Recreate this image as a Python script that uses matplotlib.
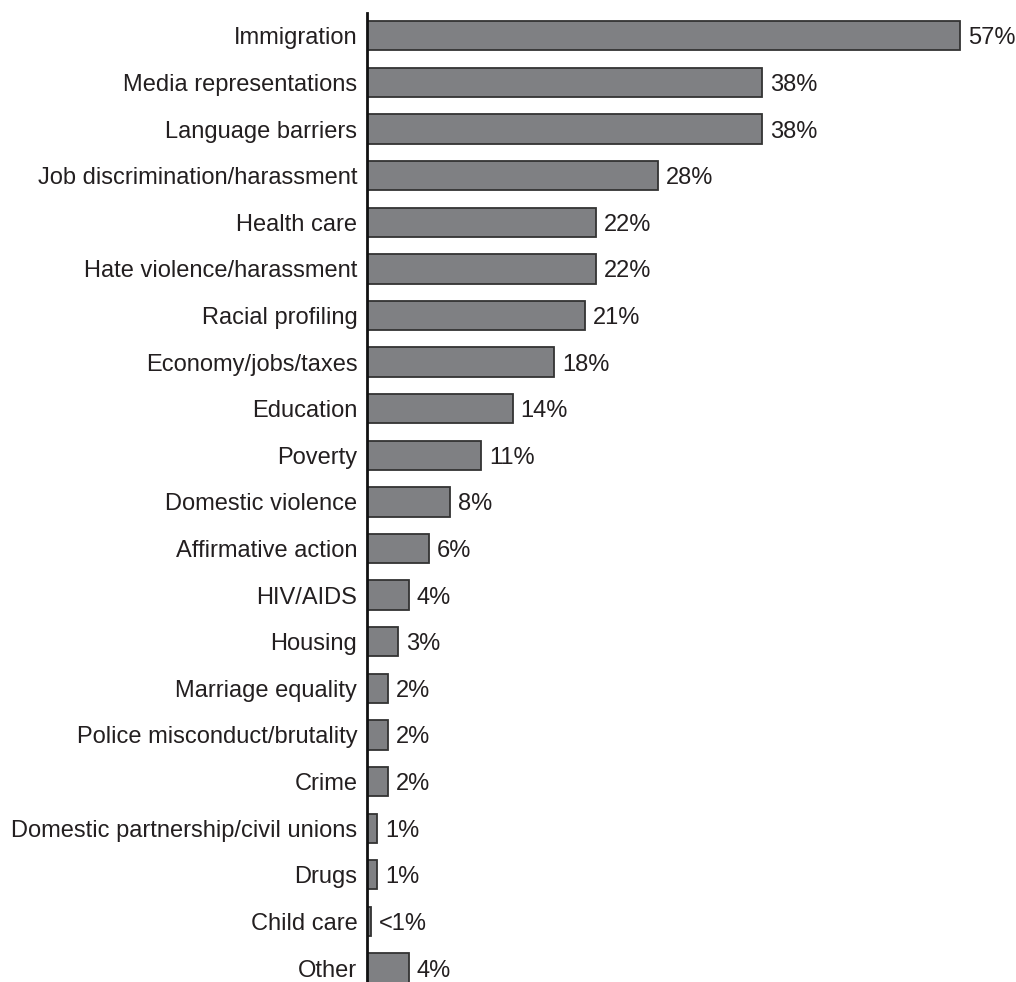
import matplotlib.pyplot as plt

# Survey responses, top issue first
issues = [
    "Immigration", "Media representations", "Language barriers",
    "Job discrimination/harassment", "Health care", "Hate violence/harassment",
    "Racial profiling", "Economy/jobs/taxes", "Education", "Poverty",
    "Domestic violence", "Affirmative action", "HIV/AIDS", "Housing",
    "Marriage equality", "Police misconduct/brutality", "Crime",
    "Domestic partnership/civil unions", "Drugs", "Child care", "Other",
]
pct = [57, 38, 38, 28, 22, 22, 21, 18, 14, 11, 8, 6, 4, 3, 2, 2, 2, 1, 1, 0.4, 4]
pct_labels = ["57%", "38%", "38%", "28%", "22%", "22%", "21%", "18%", "14%",
              "11%", "8%", "6%", "4%", "3%", "2%", "2%", "2%", "1%", "1%",
              "<1%", "4%"]

plt.rcParams['font.family'] = ['Liberation Sans', 'DejaVu Sans']

fig = plt.figure(figsize=(10.16, 9.82), dpi=100)
ax = fig.add_axes([0.3612, 0.0, 0.6388, 0.9868])

y = list(range(len(issues)))
ax.barh(y, pct, height=0.63, color="#7f8083", edgecolor="#333333", linewidth=1.3)

for yi, v, lab in zip(y, pct, pct_labels):
    ax.text(v + 0.75, yi, lab, va="center_baseline", ha="left",
            fontsize=17, color="#231f20")

ax.set_yticks(y)
ax.set_yticklabels(issues, fontsize=17, color="#231f20", va="center_baseline")
ax.tick_params(axis="y", length=0, pad=7)
ax.set_xticks([])

ax.set_xlim(0, 62.4)
ax.set_ylim(20.3, -0.49)

for s in ["top", "right", "bottom"]:
    ax.spines[s].set_visible(False)
ax.spines["left"].set_linewidth(2)
ax.spines["left"].set_color("#111111")

fig.savefig("out.png", dpi=100)
